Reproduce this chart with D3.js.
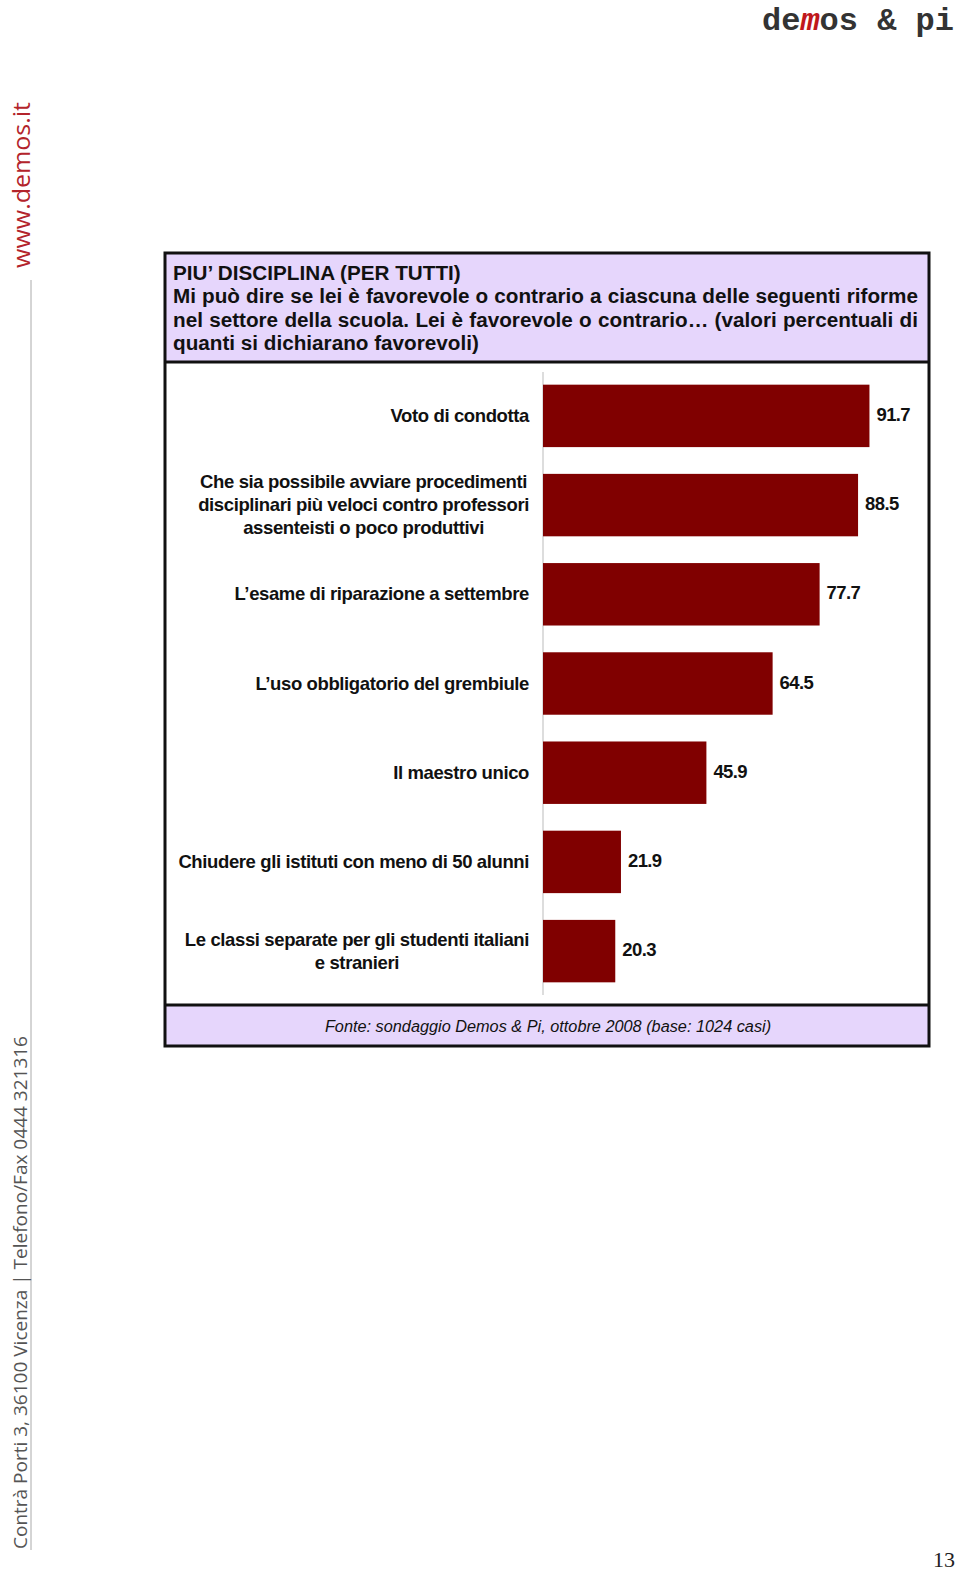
<!DOCTYPE html>
<html>
<head>
<meta charset="utf-8">
<script src="https://cdn.jsdelivr.net/npm/d3@7"></script>
<style>
  html, body { margin: 0; padding: 0; background: #fff; }
  svg { display: block; }
</style>
</head>
<body>
<div id="page"></div>
<script>
// chart data
var categories = [
  'Voto di condotta',
  'Che sia possibile avviare procedimenti\ndisciplinari più veloci contro professori\nassenteisti o poco produttivi',
  'L\u2019esame di riparazione a settembre',
  'L\u2019uso obbligatorio del grembiule',
  'Il maestro unico',
  'Chiudere gli istituti con meno di 50 alunni',
  'Le classi separate per gli studenti italiani\ne stranieri'
];
var values = [91.7, 88.5, 77.7, 64.5, 45.9, 21.9, 20.3];

var titleLines = [
  'PIU\u2019 DISCIPLINA (PER TUTTI)',
  'Mi può dire se lei è favorevole o contrario a ciascuna delle seguenti riforme',
  'nel settore della scuola. Lei è favorevole o contrario\u2026 (valori percentuali di',
  'quanti si dichiarano favorevoli)'
];
var sourceNote = 'Fonte: sondaggio Demos & Pi, ottobre 2008 (base: 1024 casi)';

var width = 960, height = 1577;
var box = { left: 165, right: 929, top: 253, headBottom: 362, footTop: 1005, bottom: 1046 };
var narrow = '"Liberation Sans Narrow", "Arial Narrow", "Liberation Sans", Arial, sans-serif';
var sans = '"Liberation Sans", Arial, sans-serif';

var svg = d3.select('#page').append('svg')
    .attr('width', width)
    .attr('height', height);

// --- page decorations ---
var logoFont = '"Liberation Mono", "Courier New", monospace';
[['de', 762, '#333'], ['m', 800.4, '#c0181c'], ['os & pi', 819.6, '#333']].forEach(function (p) {
  svg.append('text')
      .attr('x', p[1])
      .attr('y', 30)
      .style('font-family', logoFont)
      .style('font-weight', 'bold')
      .style('font-style', p[0] === 'm' ? 'italic' : 'normal')
      .style('font-size', '32px')
      .style('fill', p[2])
      .text(p[0]);
});

svg.append('line')
    .attr('x1', 31).attr('x2', 31)
    .attr('y1', 280).attr('y2', 1550)
    .style('stroke', '#aaa')
    .style('stroke-width', 1);

svg.append('text')
    .attr('transform', 'translate(30,268) rotate(-90)')
    .attr('textLength', 166)
    .attr('lengthAdjust', 'spacingAndGlyphs')
    .style('font-family', '"Open Sans", "Noto Sans", sans-serif')
    .style('font-size', '24px')
    .style('fill', '#b3242b')
    .text('www.demos.it');

svg.append('text')
    .attr('transform', 'translate(27,1549) rotate(-90)')
    .attr('textLength', 513)
    .attr('lengthAdjust', 'spacingAndGlyphs')
    .style('font-family', '"Open Sans", "Noto Sans", sans-serif')
    .style('font-size', '19px')
    .style('fill', '#555')
    .text('Contrà Porti 3, 36100 Vicenza | Telefono/Fax 0444 321316');

svg.append('text')
    .attr('x', 933)
    .attr('y', 1567)
    .style('font-family', '"Liberation Serif", "Times New Roman", serif')
    .style('font-size', '22px')
    .style('fill', '#222')
    .text('13');

// --- framed box ---
svg.append('rect')
    .attr('x', box.left).attr('y', box.top)
    .attr('width', box.right - box.left)
    .attr('height', box.headBottom - box.top)
    .style('fill', '#e6d6fc');
svg.append('rect')
    .attr('x', box.left).attr('y', box.footTop)
    .attr('width', box.right - box.left)
    .attr('height', box.bottom - box.footTop)
    .style('fill', '#e6d6fc');
svg.append('rect')
    .attr('x', box.left).attr('y', box.top)
    .attr('width', box.right - box.left)
    .attr('height', box.bottom - box.top)
    .style('fill', 'none')
    .style('stroke', '#111')
    .style('stroke-width', 3);
[box.headBottom, box.footTop].forEach(function (y) {
  svg.append('line')
      .attr('x1', box.left).attr('x2', box.right)
      .attr('y1', y).attr('y2', y)
      .style('stroke', '#111')
      .style('stroke-width', 3);
});

// header, the middle lines justified like the original
var textLeft = 173, textRight = 918;
var head = svg.append('g')
    .style('font-family', narrow)
    .style('font-weight', 'bold')
    .style('font-size', '20.7px')
    .style('fill', '#111');

titleLines.forEach(function (line, i) {
  var y = 280 + i * 23.4;
  var justify = (i === 1 || i === 2);
  if (!justify) {
    head.append('text').attr('x', textLeft).attr('y', y).text(line);
    return;
  }
  var words = line.split(' ');
  var nodes = words.map(function (w) {
    return head.append('text').attr('y', y).text(w);
  });
  var total = d3.sum(nodes, function (n) { return n.node().getComputedTextLength(); });
  var gap = (textRight - textLeft - total) / (words.length - 1);
  var x = textLeft;
  nodes.forEach(function (n) {
    n.attr('x', x);
    x += n.node().getComputedTextLength() + gap;
  });
});

svg.append('text')
    .attr('x', (box.left + box.right) / 2 + 1)
    .attr('y', 1032)
    .attr('text-anchor', 'middle')
    .style('font-family', narrow)
    .style('font-style', 'italic')
    .style('font-size', '16.3px')
    .style('fill', '#111')
    .text(sourceNote);

// --- the bars ---
var x = d3.scaleLinear()
    .domain([0, 100])
    .range([543, 899]);

var y = d3.scaleBand()
    .domain(categories)
    .range([372, 995])
    .paddingInner(0.3)
    .paddingOuter(0.142);

svg.append('line')
    .attr('x1', x(0)).attr('x2', x(0))
    .attr('y1', y.range()[0]).attr('y2', y.range()[1])
    .style('stroke', '#bbb')
    .style('stroke-width', 1);

svg.selectAll('rect.bar')
    .data(values)
    .enter()
    .append('rect')
    .attr('class', 'bar')
    .attr('x', x(0))
    .attr('y', function (d, i) { return y(categories[i]); })
    .attr('width', function (d) { return x(d) - x(0); })
    .attr('height', y.bandwidth())
    .style('fill', '#800000');

svg.selectAll('text.value')
    .data(values)
    .enter()
    .append('text')
    .attr('class', 'value')
    .attr('x', function (d) { return x(d) + 7; })
    .attr('y', function (d, i) { return y(categories[i]) + y.bandwidth() / 2 + 5; })
    .style('font-family', sans)
    .style('font-weight', 'bold')
    .style('font-size', '18.5px')
    .style('letter-spacing', '-0.6px')
    .style('fill', '#111')
    .text(d3.format('.1f'));

// category labels: block right-aligned to the axis, lines centred inside it
var labelRight = 529, lineH = 23;
var labels = svg.selectAll('g.label')
    .data(categories)
    .enter()
    .append('g')
    .attr('class', 'label')
    .style('font-family', sans)
    .style('font-weight', 'bold')
    .style('font-size', '18.5px')
    .style('letter-spacing', '-0.38px')
    .style('fill', '#111');

labels.each(function (d) {
  var g = d3.select(this);
  var lines = d.split('\n');
  var mid = y(d) + y.bandwidth() / 2;
  var texts = lines.map(function (l, j) {
    return g.append('text')
        .attr('y', mid + (j - (lines.length - 1) / 2) * lineH + 6)
        .attr('text-anchor', 'middle')
        .text(l);
  });
  var maxW = d3.max(texts, function (t) { return t.node().getComputedTextLength(); });
  texts.forEach(function (t) { t.attr('x', labelRight - maxW / 2); });
});
</script>
</body>
</html>
